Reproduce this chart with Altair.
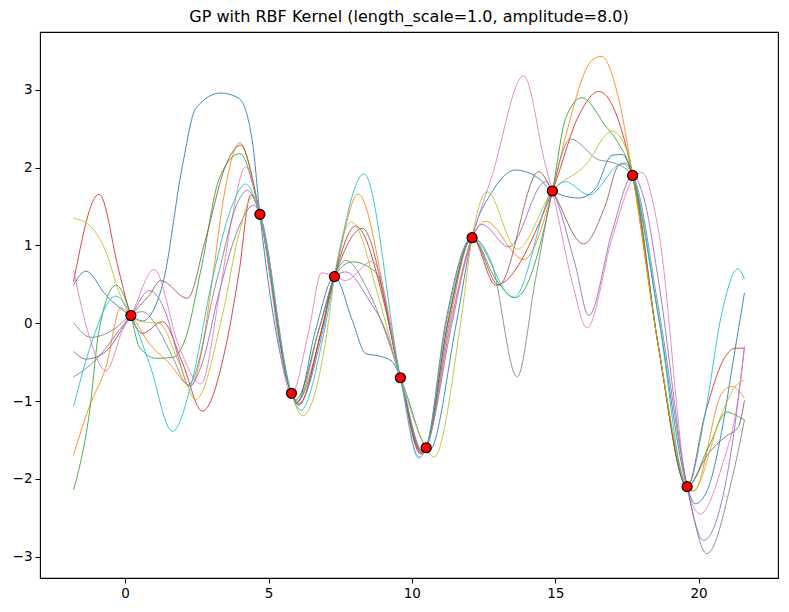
import altair as alt
import pandas as pd

# observations
obs_x = [0.2, 4.7, 5.8, 7.3, 9.6, 10.5, 12.1, 14.9, 17.7, 19.6]
obs_y = [0.1, 1.4, -0.9, 0.6, -0.7, -1.6, 1.1, 1.7, 1.9, -2.1]

# posterior sample curves
blue_x = [-1.8, -1.37, -0.67, 0.2, 0.6, 1.3, 2.0, 2.46, 3.33, 3.97, 4.44, 4.7, 5.8, 6.0, 6.64, 7.3, 7.92, 8.39, 8.85, 9.31, 9.6, 10.5, 10.6, 11.55, 12.1, 12.8, 13.61, 14.43, 14.9, 15.82, 16.4, 16.98, 17.33, 17.7, 18.6, 19.6, 19.88, 20.3, 20.8, 21.2, 21.6]
blue_y = [0.49, 0.67, 0.36, 0.1, 0.03, 0.49, 2.03, 2.76, 2.96, 2.89, 2.33, 1.4, -0.9, -1.02, -0.09, 0.6, 0.04, -0.39, -0.42, -0.49, -0.7, -1.6, -1.64, 0.0, 1.1, 1.69, 1.97, 1.86, 1.7, 1.61, 1.73, 2.16, 2.17, 1.9, 0.09, -2.1, -2.32, -2.15, -1.4, -0.5, 0.39]

orange_x = [-1.8, -1.25, -0.67, -0.15, 0.2, 0.84, 1.53, 2.29, 2.65, 3.04, 3.5, 4.0, 4.35, 4.7, 5.8, 6.05, 6.85, 7.3, 8.13, 9.08, 9.6, 10.4, 10.5, 11.35, 12.1, 12.57, 13.9, 14.9, 15.36, 16.28, 16.61, 17.21, 17.7, 18.6, 19.6, 19.83, 20.81, 21.16, 21.6]
orange_y = [-1.69, -1.07, -0.56, 0.2, 0.1, -0.26, -0.51, -0.81, -0.4, 0.56, 1.75, 2.32, 2.0, 1.4, -0.9, -1.05, -0.09, 0.6, 1.66, 0.32, -0.7, -1.65, -1.6, 0.0, 1.1, 1.31, 0.82, 1.7, 2.4, 3.38, 3.43, 2.89, 1.9, -0.3, -2.1, -2.16, -0.9, -0.81, -0.96]

green_x = [-1.8, -1.25, -0.91, -0.32, 0.2, 0.49, 1.07, 1.65, 2.1, 2.65, 3.28, 4.0, 4.7, 5.8, 6.0, 6.85, 7.3, 7.92, 8.73, 9.6, 10.35, 10.5, 11.25, 12.1, 12.92, 13.61, 14.9, 15.36, 15.93, 16.75, 17.21, 17.7, 18.6, 19.6, 20.35, 20.99, 21.39, 21.6]
green_y = [-2.14, -1.16, -0.09, 0.49, 0.1, -0.3, -0.45, -0.44, -0.2, 0.7, 1.86, 2.18, 1.4, -0.9, -1.0, -0.09, 0.6, 0.79, 0.66, -0.7, -1.66, -1.6, 0.0, 1.1, 0.57, 0.33, 1.7, 2.63, 2.9, 2.54, 2.31, 1.9, -0.3, -2.1, -1.59, -1.14, -1.2, -1.24]

red_x = [-1.8, -0.91, -0.21, 0.2, 0.6, 1.3, 2.0, 2.69, 3.51, 3.97, 4.38, 4.7, 5.8, 6.05, 6.85, 7.3, 8.04, 9.08, 9.6, 10.33, 10.5, 11.25, 12.1, 12.92, 14.9, 15.82, 16.52, 17.7, 18.6, 19.6, 20.23, 20.93, 21.28, 21.6]
red_y = [0.53, 1.66, 0.66, 0.1, -0.13, 0.02, -0.51, -1.13, -0.3, 0.65, 1.65, 1.4, -0.9, -1.05, -0.09, 0.6, 1.25, 0.19, -0.7, -1.67, -1.6, 0.0, 1.1, 0.49, 1.7, 2.67, 2.98, 1.9, -0.3, -2.1, -1.16, -0.43, -0.32, -0.32]

purple_x = [-1.8, -1.02, -0.21, 0.2, 0.84, 1.42, 1.88, 2.23, 2.69, 3.28, 3.97, 4.49, 4.7, 5.8, 6.05, 6.9, 7.3, 7.69, 8.5, 9.08, 9.6, 10.4, 10.5, 11.4, 12.1, 12.45, 13.38, 14.66, 14.9, 15.7, 16.17, 16.98, 17.7, 18.1, 18.6, 19.6, 20.17, 21.16, 21.6]
purple_y = [-0.69, -0.47, -0.09, 0.1, 0.42, 0.13, -0.47, -0.81, -0.51, 0.4, 1.24, 1.52, 1.4, -0.9, -1.03, -0.09, 0.6, 0.66, 0.3, -0.09, -0.7, -1.66, -1.6, 0.0, 1.1, 1.27, 0.98, 1.82, 1.7, 0.75, 0.1, 1.17, 1.9, 1.6, 0.55, -2.1, -2.79, -1.59, -0.3]

brown_x = [-1.8, -1.37, -0.67, 0.2, 0.84, 1.24, 2.17, 2.81, 3.51, 4.03, 4.7, 5.8, 5.95, 6.75, 7.3, 8.27, 9.6, 10.3, 10.5, 11.17, 12.1, 13.03, 14.43, 14.9, 15.99, 16.75, 17.21, 17.45, 17.7, 18.6, 19.6, 20.35, 20.93, 21.39, 21.6]
brown_y = [-0.36, -0.46, -0.36, 0.1, 0.36, 0.55, 0.32, 1.09, 2.03, 2.29, 1.4, -0.9, -0.98, -0.09, 0.6, 1.22, -0.7, -1.68, -1.6, 0.0, 1.1, 0.49, 1.95, 1.7, 1.02, 1.52, 2.03, 2.06, 1.9, -0.3, -2.1, -1.67, -1.46, -1.33, -0.99]

pink_x = [-1.8, -1.25, -0.67, -0.09, 0.2, 1.01, 1.88, 2.64, 3.3, 3.7, 4.2, 4.7, 5.8, 6.41, 6.85, 7.3, 7.69, 8.62, 9.6, 10.24, 10.5, 11.35, 12.1, 12.8, 13.9, 14.66, 14.9, 15.59, 16.11, 16.98, 17.7, 18.02, 18.61, 19.6, 20.06, 20.81, 21.39, 21.6]
pink_y = [0.68, -0.17, -0.61, -0.09, 0.1, 0.69, -0.3, -0.78, 0.4, 1.3, 2.01, 1.4, -0.9, -0.09, 0.65, 0.6, 0.55, 0.8, -0.7, -1.72, -1.6, 0.0, 1.1, 1.9, 3.18, 2.03, 1.7, 0.53, -0.06, 1.09, 1.85, 1.94, 1.17, -2.1, -2.45, -1.84, -0.94, -0.32]

gray_x = [-1.8, -1.2, -0.44, 0.2, 0.6, 1.18, 1.65, 2.2, 3.2, 3.97, 4.26, 4.7, 5.8, 6.0, 6.75, 7.3, 7.69, 8.5, 9.6, 10.35, 10.5, 11.3, 12.1, 12.8, 13.67, 14.31, 14.9, 15.53, 16.52, 16.98, 17.7, 18.6, 19.6, 20.29, 21.16, 21.6]
gray_y = [0.01, -0.18, -0.09, 0.1, 0.15, -0.09, -0.43, -0.79, 0.56, 1.59, 1.71, 1.4, -0.9, -1.02, -0.09, 0.6, 0.81, 0.4, -0.7, -1.66, -1.6, 0.0, 1.1, 0.75, -0.69, 0.56, 1.7, 2.37, 2.1, 2.07, 1.9, 0.2, -2.1, -2.96, -2.01, -1.24]

olive_x = [-1.8, -1.25, -0.67, -0.21, 0.2, 0.6, 1.18, 1.88, 2.46, 3.39, 3.97, 4.44, 4.7, 5.8, 6.18, 7.05, 7.3, 7.9, 8.85, 9.6, 10.5, 10.77, 11.7, 12.1, 12.62, 13.67, 14.9, 16.05, 16.98, 17.56, 17.7, 18.6, 19.6, 19.8, 20.81, 21.28, 21.6]
olive_y = [1.35, 1.26, 0.92, 0.4, 0.1, 0.02, 0.0, -0.51, -0.98, 0.1, 1.15, 1.62, 1.4, -0.9, -1.19, -0.09, 0.6, 1.3, 0.32, -0.7, -1.6, -1.72, 0.0, 1.1, 1.69, 0.95, 1.7, 2.03, 2.47, 2.16, 1.9, -0.3, -2.1, -2.15, -1.16, -0.81, -0.73]

cyan_x = [-1.8, -1.25, -0.32, 0.2, 0.84, 1.65, 2.34, 3.04, 3.74, 4.2, 4.7, 5.8, 6.12, 6.95, 7.3, 8.33, 9.6, 10.24, 10.5, 11.2, 12.1, 13.55, 14.9, 15.36, 16.17, 17.33, 17.7, 18.6, 19.6, 20.23, 20.81, 21.37, 21.6]
cyan_y = [-1.07, -0.34, 0.35, 0.1, -0.51, -1.39, -0.73, 0.56, 1.52, 1.79, 1.4, -0.9, -1.12, -0.09, 0.6, 1.92, -0.7, -1.73, -1.6, 0.0, 1.1, 0.33, 1.7, 1.82, 1.65, 2.05, 1.9, 0.09, -2.1, -1.16, 0.13, 0.7, 0.57]

series = [
    ("s0", blue_x, blue_y), ("s1", orange_x, orange_y), ("s2", green_x, green_y),
    ("s3", red_x, red_y), ("s4", purple_x, purple_y), ("s5", brown_x, brown_y),
    ("s6", pink_x, pink_y), ("s7", gray_x, gray_y), ("s8", olive_x, olive_y),
    ("s9", cyan_x, cyan_y),
]
tab10 = ["#1f77b4", "#ff7f0e", "#2ca02c", "#d62728", "#9467bd",
         "#8c564b", "#e377c2", "#7f7f7f", "#bcbd22", "#17becf"]

rows = []
for name, xs, ys in series:
    for i, (xv, yv) in enumerate(zip(xs, ys)):
        rows.append({"s": name, "i": i, "x": xv, "y": yv})
df = pd.DataFrame(rows)
obs_df = pd.DataFrame({"x": obs_x, "y": obs_y})

xscale = alt.Scale(domain=[-2.97, 22.77], nice=False, zero=False)
yscale = alt.Scale(domain=[-3.274, 3.744], nice=False, zero=False)

xaxis = alt.Axis(values=[0, 5, 10, 15, 20], format="d", title=None, grid=False, domain=False,
                 tickColor="black", tickSize=5, labelFontSize=13.5, labelColor="black",
                 labelPadding=3, labelFont="DejaVu Sans")
yaxis = alt.Axis(values=[-3, -2, -1, 0, 1, 2, 3], format="d", title=None, grid=False, domain=False,
                 tickColor="black", tickSize=5, labelFontSize=13.5, labelColor="black",
                 labelPadding=3, labelFont="DejaVu Sans")

lines = alt.Chart(df).mark_line(strokeWidth=0.85, interpolate="monotone", clip=True).encode(
    x=alt.X("x:Q", scale=xscale, axis=xaxis),
    y=alt.Y("y:Q", scale=yscale, axis=yaxis),
    color=alt.Color("s:N", scale=alt.Scale(domain=[s[0] for s in series], range=tab10), legend=None),
    order="i:Q",
)

pts = alt.Chart(obs_df).mark_point(filled=True, fill="red", stroke="black", strokeWidth=1.2,
                                   size=100, opacity=1, shape="circle").encode(
    x=alt.X("x:Q", scale=xscale),
    y=alt.Y("y:Q", scale=yscale),
)

chart = alt.layer(lines, pts).properties(
    width=738, height=546,
    title=alt.TitleParams("GP with RBF Kernel (length_scale=1.0, amplitude=8.0)",
                          fontSize=16, fontWeight="normal", font="DejaVu Sans",
                          color="black", offset=7),
    autosize=alt.AutoSizeParams(type="none"),
    padding={"left": 32, "top": 24, "right": 2, "bottom": 24},
).configure_view(stroke="black", strokeWidth=1.1)

chart.save("out.html", embed_options={"renderer": "svg", "actions": False})
